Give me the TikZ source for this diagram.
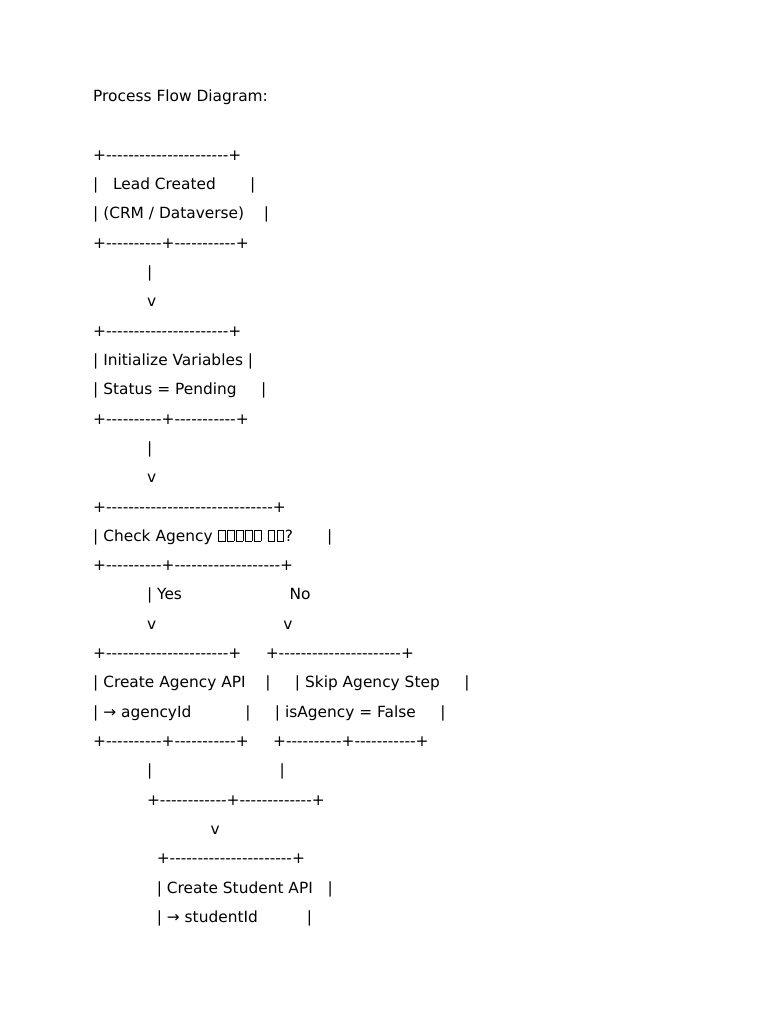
\documentclass[tikz,border=0pt]{standalone}
\usepackage{fontspec}
\setmainfont{DejaVu Sans}[Ligatures=TeXOff]

\newcommand\sk[1]{\hspace*{#1\fontdimen2\font}}
\newcommand\dsh[1]{\foreach\j in {1,...,#1}{-}}
\newcommand\tofu{\kern0.06em\vbox{\hrule height 0.6pt\hbox{\vrule width 0.6pt height 0.68em\kern0.38em\vrule width 0.6pt}\hrule height 0.6pt}\kern0.06em}

\tikzset{
  every picture/.style={x=1pt, y=-1pt},
  row/.style={anchor=base west, inner sep=0pt, font=\fontsize{15.4}{18}\selectfont}}

\begin{document}
\begin{tikzpicture}
  \useasboundingbox (0,0) rectangle (768,1024);
  \node [row] (title) at (93,101.6) {Process Flow Diagram:};
  % one node for each line of the chart
  \foreach \t [count=\k from 0] in {
    +\dsh{22}+,
    |\sk{3}Lead Created\sk{7}|,
    | (CRM / Dataverse)\sk{4}|,
    +\dsh{10}+\dsh{11}+,
    \sk{11}|,
    \sk{11}v,
    +\dsh{22}+,
    | Initialize Variables |,
    | Status = Pending\sk{5}|,
    +\dsh{10}+\dsh{11}+,
    \sk{11}|,
    \sk{11}v,
    +\dsh{30}+,
    | Check Agency \tofu\tofu\tofu\tofu\tofu\ \tofu\tofu?\sk{7}|,
    +\dsh{10}+\dsh{19}+,
    \sk{11}| Yes\sk{22}No,
    \sk{11}v\sk{26}v,
    +\dsh{22}+\sk{5}+\dsh{22}+,
    | Create Agency API\sk{4}|\sk{5}| Skip Agency Step\sk{5}|,
    | → agencyId\sk{11}|\sk{5}| isAgency = False\sk{5}|,
    +\dsh{10}+\dsh{11}+\sk{5}+\dsh{10}+\dsh{11}+,
    \sk{11}|\sk{26}|,
    \sk{11}+\dsh{12}+\dsh{13}+,
    \sk{24}v,
    \sk{13}+\dsh{22}+,
    \sk{13}| Create Student API\sk{3}|,
    \sk{13}| → studentId\sk{10}|}
    \node [row] (r\k) at (93,160.3+29.31*\k) {\t};
\end{tikzpicture}
\end{document}
